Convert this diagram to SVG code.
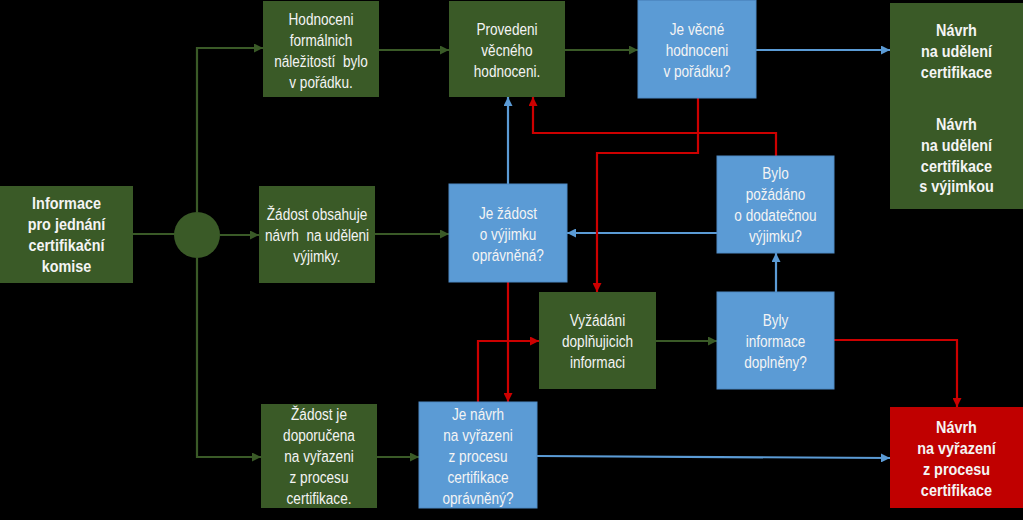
<svg xmlns="http://www.w3.org/2000/svg" width="1023" height="520" viewBox="0 0 1023 520">
<style>
.g{fill:#3A5A27}
.b{fill:#5B9BD5;stroke:#4F8AC4;stroke-width:1}
.r{fill:#C00000}
text{fill:#F4F4F4;text-anchor:middle}
.t text{font-family:"Liberation Sans",Arial,sans-serif;font-size:17px}
.tb text{font-family:"Liberation Sans",Arial,sans-serif;font-size:16px;font-weight:bold}
.cg{stroke:#3A5A27;stroke-width:2.2;fill:none;marker-end:url(#ag)}
.cb{stroke:#5B9BD5;stroke-width:2.2;fill:none;marker-end:url(#ab)}
.cr{stroke:#CC0000;stroke-width:2.2;fill:none;marker-end:url(#ar)}
.ln{stroke:#3A5A27;stroke-width:2.2;fill:none}
</style>
<defs>
<marker id="ag" markerUnits="userSpaceOnUse" markerWidth="9" markerHeight="9" refX="9" refY="4.5" orient="auto"><path d="M0,0L9,4.5L0,9z" fill="#3A5A27"/></marker>
<marker id="ab" markerUnits="userSpaceOnUse" markerWidth="9" markerHeight="9" refX="9" refY="4.5" orient="auto"><path d="M0,0L9,4.5L0,9z" fill="#5B9BD5"/></marker>
<marker id="ar" markerUnits="userSpaceOnUse" markerWidth="9" markerHeight="9" refX="9" refY="4.5" orient="auto"><path d="M0,0L9,4.5L0,9z" fill="#CC0000"/></marker>
</defs>
<rect width="1023" height="520" fill="#000"/>
<g id="connectors">
<path class="ln" d="M133,234H175"/>
<path class="cg" d="M197,212V48H263"/>
<path class="cg" d="M220,235H259"/>
<path class="cg" d="M197,258V457H261"/>
<path class="cg" d="M379,50H449"/>
<path class="cg" d="M375,234H449"/>
<path class="cg" d="M565,50H638"/>
<path class="cg" d="M377,457H419"/>
<path class="cg" d="M656,341H717"/>
<path class="cb" d="M756,50H890"/>
<path class="cb" d="M508,184V97"/>
<path class="cb" d="M717,233H567"/>
<path class="cb" d="M776,292V253"/>
<path class="cb" d="M537,456L890,458"/>
<path class="cr" d="M776,156V133H533V97"/>
<path class="cr" d="M698,98V153H597V292"/>
<path class="cr" d="M508,282V402"/>
<path class="cr" d="M478,402V341H539"/>
<path class="cr" d="M834,340H957V407"/>
</g>
<g id="n-informace">
<rect class="g" x="0" y="186" width="133" height="97"/>
<g class="tb" transform="matrix(0.9 0 0 1 66.5 0)">
<text y="209">Informace</text>
<text y="230">pro jednání</text>
<text y="251">certifikační</text>
<text y="272">komise</text>
</g>
</g>
<g id="n-circle"><circle class="g" cx="197" cy="235" r="23"/></g>
<g id="n-hodnoceni">
<rect class="g" x="263" y="1" width="116" height="96"/>
<g class="t" transform="matrix(0.8 0 0 1 321 0)">
<text y="25.5">Hodnoceni</text>
<text y="46.5">formálnich</text>
<text y="67.5" xml:space="preserve">náležitostí  bylo</text>
<text y="88.5">v pořádku.</text>
</g>
</g>
<g id="n-provedeni">
<rect class="g" x="449" y="1" width="116" height="96"/>
<g class="t" transform="matrix(0.8 0 0 1 507 0)">
<text y="35">Provedeni</text>
<text y="56">věcného</text>
<text y="77">hodnoceni.</text>
</g>
</g>
<g id="n-jevecne">
<rect class="b" x="638" y="0.5" width="118" height="97.5"/>
<g class="t" transform="matrix(0.8 0 0 1 697 0)">
<text y="35">Je věcné</text>
<text y="56">hodnoceni</text>
<text y="77">v pořádku?</text>
</g>
</g>
<g id="n-navrh-udeleni">
<rect class="g" x="890" y="3" width="133" height="206"/>
<g class="tb" transform="matrix(0.9 0 0 1 956.5 0)">
<text y="36">Návrh</text>
<text y="57">na udělení</text>
<text y="78">certifikace</text>
<text y="130">Návrh</text>
<text y="151">na udělení</text>
<text y="172">certifikace</text>
<text y="192">s výjimkou</text>
</g>
</g>
<g id="n-zadost-obsahuje">
<rect class="g" x="259" y="186" width="116" height="97"/>
<g class="t" transform="matrix(0.8 0 0 1 317 0)">
<text y="220">Žádost obsahuje</text>
<text y="241" xml:space="preserve">návrh  na uděleni</text>
<text y="262">výjimky.</text>
</g>
</g>
<g id="n-je-zadost">
<rect class="b" x="449" y="184" width="118" height="98"/>
<g class="t" transform="matrix(0.8 0 0 1 508 0)">
<text y="219.5">Je žádost</text>
<text y="240.5">o výjimku</text>
<text y="261.5">oprávněná?</text>
</g>
</g>
<g id="n-bylo">
<rect class="b" x="717" y="156" width="117" height="97"/>
<g class="t" transform="matrix(0.8 0 0 1 775.5 0)">
<text y="179.5">Bylo</text>
<text y="200.5">požádáno</text>
<text y="221.5">o dodatečnou</text>
<text y="242.5">výjimku?</text>
</g>
</g>
<g id="n-vyzadani">
<rect class="g" x="539" y="292" width="117" height="97"/>
<g class="t" transform="matrix(0.8 0 0 1 597.5 0)">
<text y="326.5">Vyžádáni</text>
<text y="347.5">doplňujicich</text>
<text y="368.5">informaci</text>
</g>
</g>
<g id="n-byly">
<rect class="b" x="717" y="292" width="117" height="97"/>
<g class="t" transform="matrix(0.8 0 0 1 775.5 0)">
<text y="326.5">Byly</text>
<text y="347.5">informace</text>
<text y="368.5">doplněny?</text>
</g>
</g>
<g id="n-zadost-je">
<rect class="g" x="261" y="404" width="116" height="104"/>
<g class="t" transform="matrix(0.8 0 0 1 319 0)">
<text y="420.5">Žádost je</text>
<text y="441.5">doporučena</text>
<text y="462.5">na vyřazeni</text>
<text y="483.5">z procesu</text>
<text y="504.5">certifikace.</text>
</g>
</g>
<g id="n-je-navrh">
<rect class="b" x="419" y="402" width="118" height="106"/>
<g class="t" transform="matrix(0.8 0 0 1 478 0)">
<text y="420">Je návrh</text>
<text y="441">na vyřazeni</text>
<text y="462">z procesu</text>
<text y="483">certifikace</text>
<text y="504">oprávněný?</text>
</g>
</g>
<g id="n-navrh-vyrazeni">
<rect class="r" x="890" y="407" width="133" height="101"/>
<g class="tb" transform="matrix(0.9 0 0 1 956.5 0)">
<text y="433">Návrh</text>
<text y="454">na vyřazení</text>
<text y="475">z procesu</text>
<text y="496">certifikace</text>
</g>
</g>
</svg>
